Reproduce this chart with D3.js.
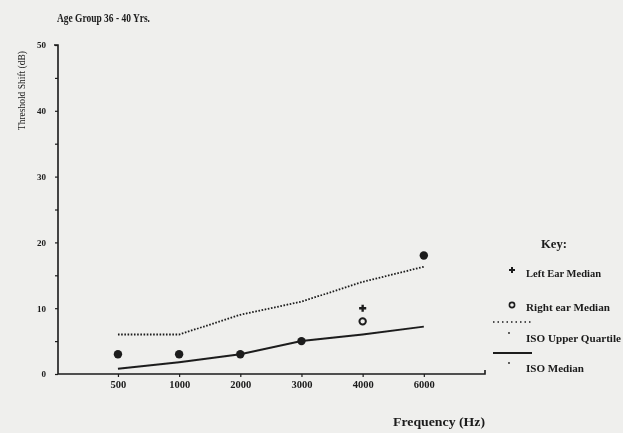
<!DOCTYPE html>
<html>
<head>
<meta charset="utf-8">
<script src="https://cdn.jsdelivr.net/npm/d3@7"></script>
<style>
  html, body { margin: 0; padding: 0; background: #efefed; }
  svg { display: block; }
  text { font-family: "Liberation Serif", "DejaVu Serif", serif; fill: #1a1a1a; }
</style>
</head>
<body>
<svg id="chart" width="623" height="433"></svg>
<script>
// Frequencies tested (categorical, evenly spaced)
const frequencies = ["500", "1000", "2000", "3000", "4000", "6000"];
// Median threshold shifts (dB) for the group
const leftEarMedian  = [3, 3, 3, 5, 10, 18];
const rightEarMedian = [3, 3, 3, 5, 8, 18];
// ISO 1999 reference values for the age group
const isoUpperQuartile = [6, 6, 9, 11, 14, 16.3];
const isoMedian        = [0.8, 1.8, 3, 5, 6, 7.2];
const yTicks = [0, 10, 20, 30, 40, 50];

const ink = "#1c1c1c";
const svg = d3.select("#chart");

// Slight softening of the printed figure
svg.append("defs").append("filter").attr("id", "soft")
  .append("feGaussianBlur").attr("stdDeviation", 0.35);
const root = svg.append("g").attr("filter", "url(#soft)");

const x = d3.scaleLinear().domain([-0.98, 6]).range([58, 485]);
const y = d3.scaleLinear().domain([0, 50]).range([374, 45]);

// Title
root.append("text").attr("x", 57).attr("y", 22)
  .attr("font-size", 11.5).attr("font-weight", "bold")
  .attr("textLength", 93).attr("lengthAdjust", "spacingAndGlyphs")
  .text("Age Group 36 - 40 Yrs.");

// Y axis
const yAxis = d3.axisLeft(y).tickValues(d3.range(0, 51, 5)).tickSize(3)
  .tickFormat(d => yTicks.includes(d) ? d : "");
const gy = root.append("g").attr("transform", `translate(${x(-0.98)},0)`).call(yAxis);
gy.select(".domain").attr("stroke", ink).attr("stroke-width", 1.6)
  .attr("d", `M-4,${y(50)}H0V${y(0)}`);
gy.selectAll(".tick line").attr("stroke", ink).attr("stroke-width", 1.2);
gy.selectAll(".tick text").attr("font-family", "Liberation Serif").attr("font-weight", "bold")
  .attr("font-size", 9).attr("fill", ink).attr("dx", -6);

root.append("text")
  .attr("transform", "translate(25,51) rotate(-90)")
  .attr("text-anchor", "end").attr("font-size", 9.5)
  .text("Threshold Shift (dB)");

// X axis
const xAxis = d3.axisBottom(x).tickValues(d3.range(frequencies.length)).tickSize(3)
  .tickFormat(i => frequencies[i]);
const gx = root.append("g").attr("transform", `translate(0,${y(0)})`).call(xAxis);
gx.select(".domain").attr("stroke", ink).attr("stroke-width", 1.6)
  .attr("d", `M${x(-0.98)},0H${x(6)}V-4`);
gx.selectAll(".tick line").attr("stroke", ink).attr("stroke-width", 1.2);
gx.selectAll(".tick text").attr("font-family", "Liberation Serif").attr("font-weight", "bold")
  .attr("font-size", 10.5).attr("fill", ink).attr("dy", "0.8em");

root.append("text").attr("x", 485).attr("y", 426)
  .attr("text-anchor", "end").attr("font-size", 12).attr("font-weight", "bold")
  .attr("textLength", 92).attr("lengthAdjust", "spacingAndGlyphs")
  .text("Frequency (Hz)");

// ISO reference lines
const line = d3.line().x((d, i) => x(i)).y(d => y(d));
root.append("path").datum(isoUpperQuartile).attr("d", line)
  .attr("fill", "none").attr("stroke", ink).attr("stroke-width", 1.8)
  .attr("stroke-dasharray", "1.6,1.6");
root.append("path").datum(isoMedian).attr("d", line)
  .attr("fill", "none").attr("stroke", ink).attr("stroke-width", 2);

// Ear medians: coincident values share a filled dot
const pts = frequencies.map((f, i) => ({ i, l: leftEarMedian[i], r: rightEarMedian[i] }));
const same = pts.filter(d => d.l === d.r);
const diff = pts.filter(d => d.l !== d.r);
root.selectAll("circle.both").data(same).join("circle").attr("class", "both")
  .attr("cx", d => x(d.i)).attr("cy", d => y(d.l)).attr("r", 4.2).attr("fill", ink);
root.selectAll("circle.right").data(diff).join("circle").attr("class", "right")
  .attr("cx", d => x(d.i)).attr("cy", d => y(d.r)).attr("r", 3.2)
  .attr("fill", "none").attr("stroke", ink).attr("stroke-width", 2);
const plus = d3.symbol().type(d3.symbolCross).size(28);
root.selectAll("path.left").data(diff).join("path").attr("class", "left")
  .attr("transform", d => `translate(${x(d.i)},${y(d.l)})`)
  .attr("d", plus).attr("fill", ink);

// Key
const kx = 526;
root.append("text").attr("x", 541).attr("y", 248).attr("font-size", 12.5).attr("font-weight", "bold")
  .attr("textLength", 26).attr("lengthAdjust", "spacingAndGlyphs").text("Key:");
root.append("path").attr("transform", "translate(512,270)").attr("d", d3.symbol().type(d3.symbolCross).size(20)).attr("fill", ink);
root.append("circle").attr("cx", 512).attr("cy", 305).attr("r", 2.6).attr("fill", "none").attr("stroke", ink).attr("stroke-width", 1.6);
root.append("line").attr("x1", 493).attr("x2", 532).attr("y1", 322).attr("y2", 322)
  .attr("stroke", ink).attr("stroke-width", 1.4).attr("stroke-dasharray", "1.5,3");
root.append("circle").attr("cx", 509).attr("cy", 333).attr("r", 0.9).attr("fill", ink);
root.append("line").attr("x1", 493).attr("x2", 532).attr("y1", 353).attr("y2", 353)
  .attr("stroke", ink).attr("stroke-width", 2);
root.append("circle").attr("cx", 509).attr("cy", 363).attr("r", 0.9).attr("fill", ink);

// Key labels with their printed widths
const keyLabels = [["Left Ear Median", 277, 75], ["Right ear Median", 311, 84], ["ISO Upper Quartile", 342, 95], ["ISO Median", 372, 58]];
root.selectAll("text.key").data(keyLabels).join("text").attr("class", "key")
  .attr("x", kx).attr("y", d => d[1]).attr("font-size", 10).attr("font-weight", "bold")
  .attr("textLength", d => d[2]).attr("lengthAdjust", "spacingAndGlyphs")
  .text(d => d[0]);
</script>
</body>
</html>
